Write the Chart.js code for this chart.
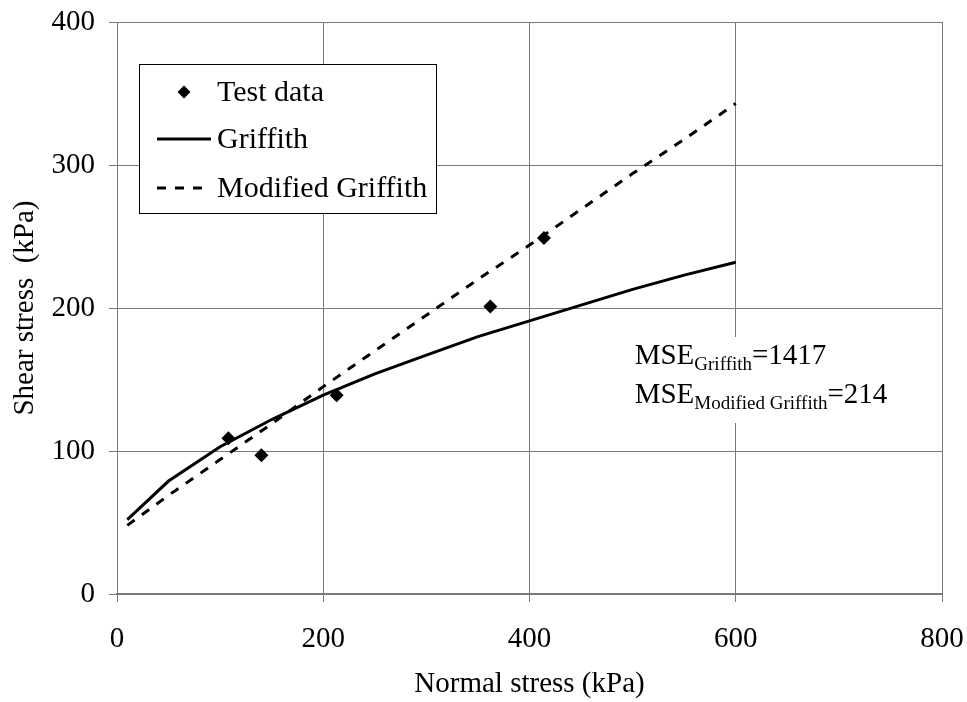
<!DOCTYPE html>
<html>
<head>
<meta charset="utf-8">
<script src="https://cdn.jsdelivr.net/npm/chart.js@4.4.1/dist/chart.umd.min.js"></script>
<style>
  html, body { margin: 0; padding: 0; background: #ffffff; }
  #wrap { width: 967px; height: 702px; }
</style>
</head>
<body>
<div id="wrap"><canvas id="c" width="967" height="702"></canvas></div>
<script>
// ---- data ----
const testStress = [108, 140, 213, 362, 414];
const testShear = [109, 97, 139, 201, 249];
const curveStress = [10, 50, 100, 150, 200, 250, 300, 350, 400, 450, 500, 550, 600];
const griffithShear = [52, 79, 103, 122, 139, 154, 167, 180, 191, 202, 213, 223, 232];
const modGriffithShear = [48, 69, 94, 119, 145, 170, 195, 220, 244, 269, 294, 318, 343];
const seriesNames = ['Test data', 'Griffith', 'Modified Griffith'];
const xTickValues = [0, 200, 400, 600, 800];
const yTickValues = [0, 100, 200, 300, 400];
const mseLines = [
  { main: 'MSE', sub: 'Griffith', value: '=1417' },
  { main: 'MSE', sub: 'Modified Griffith', value: '=214' }
];

const FONT = '"Liberation Serif", "Times New Roman", serif';
const pts = (xs, ys) => xs.map((x, i) => ({ x: x, y: ys[i] }));

const legendPlugin = {
  id: 'boxLegend',
  afterDraw(chart) {
    const ctx = chart.ctx;
    const ds = chart.data.datasets;
    const bx = 139, by = 64, bw = 297, bh = 149;
    ctx.save();
    ctx.fillStyle = '#ffffff';
    ctx.fillRect(bx, by, bw, bh);
    ctx.strokeStyle = '#000000';
    ctx.lineWidth = 1;
    ctx.strokeRect(bx + 0.5, by + 0.5, bw, bh);
    ctx.font = '30px ' + FONT;
    ctx.textBaseline = 'middle';
    ctx.textAlign = 'left';
    const rowsY = [92, 139, 188];
    ds.forEach((d, i) => {
      const y = rowsY[i];
      ctx.fillStyle = '#000';
      ctx.strokeStyle = '#000';
      if (d.showLine === false) {
        const r = 6.5;
        ctx.beginPath();
        ctx.moveTo(184, y - r);
        ctx.lineTo(184 + r, y);
        ctx.lineTo(184, y + r);
        ctx.lineTo(184 - r, y);
        ctx.closePath();
        ctx.fill();
      } else {
        ctx.lineWidth = d.borderWidth;
        ctx.setLineDash(d.borderDash || []);
        ctx.beginPath();
        ctx.moveTo(157, y);
        ctx.lineTo(d.borderDash ? 204 : 211, y);
        ctx.stroke();
        ctx.setLineDash([]);
      }
      ctx.fillText(d.label, 217, y + 1);
    });
    ctx.restore();
  }
};

const msePlugin = {
  id: 'mseNote',
  afterDraw(chart) {
    const ctx = chart.ctx;
    const xs = chart.scales.x, ys = chart.scales.y;
    ctx.save();
    ctx.fillStyle = '#ffffff';
    ctx.fillRect(625, 337, 280, 86);
    ctx.fillStyle = '#000';
    ctx.textBaseline = 'alphabetic';
    ctx.textAlign = 'left';
    const x0 = xs.getPixelForValue(502);
    const baselines = [ys.getPixelForValue(160.5), ys.getPixelForValue(133.5)];
    mseLines.forEach((l, i) => {
      let x = x0;
      const b = baselines[i];
      ctx.font = '29px ' + FONT;
      ctx.fillText(l.main, x, b);
      x += ctx.measureText(l.main).width;
      ctx.font = '19px ' + FONT;
      ctx.fillText(l.sub, x, b + 6);
      x += ctx.measureText(l.sub).width;
      ctx.font = '29px ' + FONT;
      ctx.fillText(l.value, x, b);
    });
    ctx.restore();
  }
};

const gridColor = '#7a7a7a';
const noOverflow = (s) => { s.paddingTop = 0; s.paddingBottom = 0; s.paddingLeft = 0; s.paddingRight = 0; };

new Chart(document.getElementById('c'), {
  type: 'scatter',
  data: {
    datasets: [
      {
        label: seriesNames[0],
        data: pts(testStress, testShear),
        showLine: false,
        pointStyle: 'rectRot',
        pointRadius: 7,
        pointBackgroundColor: '#000',
        pointBorderColor: '#000',
        pointBorderWidth: 0
      },
      {
        label: seriesNames[1],
        data: pts(curveStress, griffithShear),
        showLine: true,
        borderColor: '#000',
        borderWidth: 3,
        pointRadius: 0,
        tension: 0
      },
      {
        label: seriesNames[2],
        data: pts(curveStress, modGriffithShear),
        showLine: true,
        borderColor: '#000',
        borderWidth: 3,
        borderDash: [9, 9],
        pointRadius: 0,
        tension: 0
      }
    ]
  },
  options: {
    responsive: false,
    animation: false,
    devicePixelRatio: 1,
    layout: { padding: { top: 22, right: 25, left: 0, bottom: 0 } },
    plugins: { legend: { display: false }, tooltip: { enabled: false } },
    scales: {
      x: {
        type: 'linear',
        min: xTickValues[0],
        max: xTickValues[xTickValues.length - 1],
        afterBuildTicks: (s) => { s.ticks = xTickValues.map(v => ({ value: v })); },
        afterFit: (s) => { s.height = 108; noOverflow(s); },
        ticks: { font: { family: FONT, size: 29 }, color: '#000', padding: 20, maxRotation: 0 },
        grid: { color: gridColor, lineWidth: 1, tickLength: 8, drawTicks: true },
        border: { color: gridColor, width: 2 },
        title: { display: true, text: 'Normal stress (kPa)', font: { family: FONT, size: 29 }, color: '#000', padding: { top: 0, bottom: 0 } }
      },
      y: {
        type: 'linear',
        min: yTickValues[0],
        max: yTickValues[yTickValues.length - 1],
        afterBuildTicks: (s) => { s.ticks = yTickValues.map(v => ({ value: v })); },
        afterFit: (s) => { s.width = 117; noOverflow(s); },
        ticks: { font: { family: FONT, size: 29 }, color: '#000', padding: 14 },
        grid: { color: gridColor, lineWidth: 1, tickLength: 8, drawTicks: true },
        border: { color: gridColor, width: 1 },
        title: { display: true, text: 'Shear stress  (kPa)', font: { family: FONT, size: 29 }, color: '#000', padding: { top: 8, bottom: 0 } }
      }
    }
  },
  plugins: [legendPlugin, msePlugin]
});
</script>
</body>
</html>
